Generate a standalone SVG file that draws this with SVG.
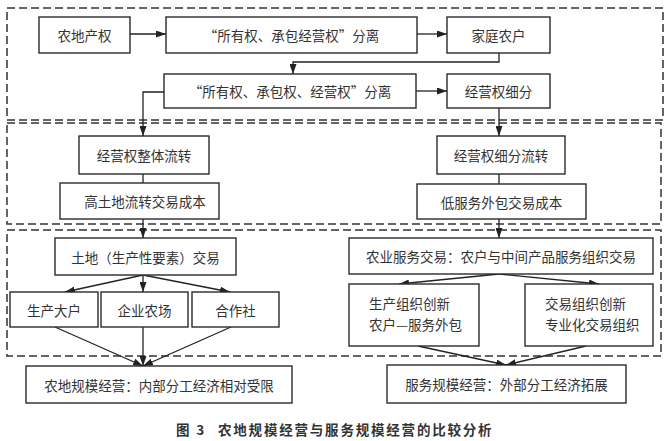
<svg xmlns="http://www.w3.org/2000/svg" width="672" height="441" viewBox="0 0 672 441">
<style>
.bg{fill:#ffffff}
.region{fill:none;stroke:#333;stroke-width:1.5;stroke-dasharray:8 4}
.box{fill:#fff;stroke:#2a2a2a;stroke-width:1.4}
.t{font-family:"Noto Sans CJK SC","Liberation Sans",sans-serif;font-size:13.5px;fill:#333;text-anchor:middle;dominant-baseline:central}
.tl{font-family:"Noto Sans CJK SC","Liberation Sans",sans-serif;font-size:13.5px;fill:#333;dominant-baseline:central}
.cap{font-family:"Noto Sans CJK SC","Liberation Sans",sans-serif;font-size:13.5px;font-weight:bold;fill:#333;letter-spacing:1.8px}
.c{fill:none;stroke:#222;stroke-width:1.3}
.a{marker-end:url(#arr)}
</style>
<defs>
<marker id="arr" markerUnits="userSpaceOnUse" markerWidth="10" markerHeight="7" refX="10" refY="3.5" orient="auto">
<path d="M0,0 L10,3.5 L0,7 z" fill="#222"/>
</marker>
</defs>
<rect class="bg" x="0" y="0" width="672" height="441"/>
<g id="regions">
<rect class="region" x="7" y="8" width="656" height="112"/>
<rect class="region" x="7" y="123" width="654" height="101"/>
<rect class="region" x="7" y="230" width="654" height="126"/>
</g>
<g id="connectors">
<line class="c a" x1="130" y1="34" x2="166" y2="34"/>
<line class="c a" x1="417" y1="34" x2="447" y2="34"/>
<path class="c a" d="M499,53 V62 H293 V74"/>
<line class="c a" x1="416" y1="91" x2="447" y2="91"/>
<path class="c a" d="M164,92 H143 V136"/>
<line class="c" x1="143" y1="174" x2="143" y2="183"/>
<line class="c a" x1="143" y1="219" x2="143" y2="238"/>
<line class="c a" x1="499" y1="108" x2="499" y2="136"/>
<line class="c" x1="499" y1="174" x2="499" y2="184"/>
<line class="c a" x1="499" y1="219" x2="499" y2="238"/>
<line class="c a" x1="143" y1="275" x2="65" y2="292"/>
<line class="c a" x1="143" y1="275" x2="143" y2="292"/>
<line class="c a" x1="143" y1="275" x2="230" y2="292"/>
<line class="c a" x1="55" y1="327" x2="143" y2="366"/>
<line class="c a" x1="143" y1="327" x2="143" y2="366"/>
<line class="c a" x1="231" y1="327" x2="143" y2="366"/>
<line class="c a" x1="499" y1="274" x2="399" y2="284"/>
<line class="c a" x1="499" y1="274" x2="599" y2="284"/>
<line class="c a" x1="418" y1="346" x2="506" y2="365"/>
<line class="c a" x1="586" y1="346" x2="506" y2="365"/>
</g>
<g id="n1"><rect class="box" x="39" y="17" width="91" height="36"/><text class="t" x="84.5" y="35">农地产权</text></g>
<g id="n2"><rect class="box" x="166" y="17" width="251" height="36"/><text class="t" x="291.5" y="35">“所有权、承包经营权”分离</text></g>
<g id="n3"><rect class="box" x="447" y="17" width="103" height="36"/><text class="t" x="498.5" y="35">家庭农户</text></g>
<g id="n4"><rect class="box" x="164" y="74" width="252" height="34"/><text class="t" x="290" y="91">“所有权、承包权、经营权”分离</text></g>
<g id="n5"><rect class="box" x="447" y="74" width="103" height="34"/><text class="t" x="498.5" y="91">经营权细分</text></g>
<g id="n6"><rect class="box" x="79" y="136" width="130" height="38"/><text class="t" x="144" y="155">经营权整体流转</text></g>
<g id="n7"><rect class="box" x="60" y="183" width="159" height="36"/><text class="t" x="145" y="201">高土地流转交易成本</text></g>
<g id="n8"><rect class="box" x="437" y="136" width="128" height="38"/><text class="t" x="501" y="155">经营权细分流转</text></g>
<g id="n9"><rect class="box" x="417" y="184" width="169" height="35"/><text class="t" x="501.5" y="201.5">低服务外包交易成本</text></g>
<g id="n10"><rect class="box" x="55" y="238" width="181" height="37"/><text class="t" x="145.5" y="256.5">土地（生产性要素）交易</text></g>
<g id="n11"><rect class="box" x="349" y="238" width="304" height="36"/><text class="t" x="501" y="256">农业服务交易：农户与中间产品服务组织交易</text></g>
<g id="n12"><rect class="box" x="10" y="292" width="88" height="35"/><text class="t" x="54" y="309.5">生产大户</text></g>
<g id="n13"><rect class="box" x="101" y="292" width="87" height="35"/><text class="t" x="144.5" y="309.5">企业农场</text></g>
<g id="n14"><rect class="box" x="192" y="292" width="87" height="35"/><text class="t" x="235.5" y="309.5">合作社</text></g>
<g id="n15"><rect class="box" x="349" y="284" width="130" height="62"/><text class="tl" x="369" y="303">生产组织创新</text><text class="tl" x="369" y="324">农户—服务外包</text></g>
<g id="n16"><rect class="box" x="525" y="284" width="128" height="62"/><text class="tl" x="545" y="303">交易组织创新</text><text class="tl" x="545" y="324">专业化交易组织</text></g>
<g id="n17"><rect class="box" x="26" y="366" width="266" height="37"/><text class="t" x="159" y="384.5">农地规模经营：内部分工经济相对受限</text></g>
<g id="n18"><rect class="box" x="387" y="365" width="239" height="38"/><text class="t" x="506.5" y="384">服务规模经营：外部分工经济拓展</text></g>
<g id="caption">
<text class="cap" x="176" y="435">图 3</text>
<text class="cap" x="218" y="435">农地规模经营与服务规模经营的比较分析</text>
</g>
</svg>
